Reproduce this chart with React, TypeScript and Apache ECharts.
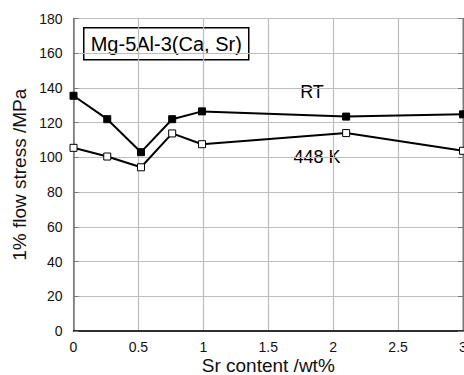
import React, { useEffect, useRef } from "react";
import * as echarts from "echarts";

const srContent = [0, 0.26, 0.52, 0.76, 0.99, 2.1, 3];
const rtStress = [135.5, 122, 103, 122, 126.5, 123.5, 124.8];
const hotStress = [105.5, 100.5, 94.3, 113.8, 107.6, 114, 103.8];
const seriesNames = ["RT", "448 K"];
const boxTitle = "Mg-5Al-3(Ca, Sr)";
const xTitle = "Sr content /wt%";
const yTitle = "1% flow stress /MPa";

const FONT = "'Liberation Sans', Arial, sans-serif";

export default function App() {
  const ref = useRef<HTMLDivElement>(null);
  useEffect(() => {
    if (!ref.current) return;
    const chart = echarts.init(ref.current, null, { renderer: "svg" });
    const mk = (xs: number[], ys: number[]) => xs.map((x, i) => [x, ys[i]]);
    chart.setOption({
      animation: false,
      backgroundColor: "#ffffff",
      textStyle: { fontFamily: FONT },
      grid: {
        left: 73.5,
        right: 1,
        top: 18.5,
        bottom: 44,
        show: true,
        borderColor: "#777777",
        borderWidth: 1,
        outerBoundsMode: "none",
        containLabel: false,
      },
      xAxis: {
        type: "value",
        min: 0,
        max: 3,
        interval: 0.5,
        name: xTitle,
        nameLocation: "middle",
        nameGap: 25.5,
        nameMoveOverlap: false,
        nameTextStyle: {
          fontSize: 19,
          color: "#111",
          fontFamily: FONT,
          verticalAlign: "top",
          lineHeight: 18,
        },
        axisLine: { show: true, lineStyle: { color: "#000", width: 1.5 } },
        axisTick: { show: false },
        axisLabel: { fontSize: 14, color: "#111", margin: 9, fontFamily: FONT },
        splitLine: { show: true, lineStyle: { color: "#bdbdbd", width: 1.2 } },
      },
      yAxis: [
        {
          type: "value",
          min: 0,
          max: 180,
          interval: 20,
          name: yTitle,
          nameLocation: "middle",
          nameGap: 45,
          nameRotate: 90,
          nameMoveOverlap: false,
          nameTextStyle: { fontSize: 19, color: "#111", fontFamily: FONT },
          axisLine: { show: true, lineStyle: { color: "#6f6f6f", width: 1.5 } },
          axisTick: { show: true, inside: true, length: 5, lineStyle: { color: "#777" } },
          axisLabel: { fontSize: 14, color: "#111", margin: 11, fontFamily: FONT },
          splitLine: { show: true, lineStyle: { color: "#bdbdbd", width: 1.2 } },
        },
        {
          type: "value",
          position: "right",
          min: 0,
          max: 180,
          interval: 20,
          axisLine: { show: true, lineStyle: { color: "#777", width: 1 } },
          axisTick: { show: true, inside: true, length: 5, lineStyle: { color: "#777" } },
          axisLabel: { show: false },
          splitLine: { show: false },
        },
      ],
      series: [
        {
          name: seriesNames[0],
          type: "line",
          data: mk(srContent, rtStress),
          symbol: "rect",
          symbolSize: 7,
          lineStyle: { color: "#000", width: 2 },
          itemStyle: { color: "#000", borderColor: "#000", borderWidth: 1 },
          z: 3,
        },
        {
          name: seriesNames[1],
          type: "line",
          data: mk(srContent, hotStress),
          symbol: "rect",
          symbolSize: 7,
          lineStyle: { color: "#000", width: 2 },
          itemStyle: { color: "#fff", borderColor: "#000", borderWidth: 1 },
          z: 3,
        },
      ],
      graphic: [
        {
          type: "group",
          left: 83,
          top: 27,
          children: [
            {
              type: "rect",
              shape: { x: 0, y: 0, width: 165, height: 32 },
              style: { fill: "#fff", stroke: "#000", lineWidth: 1.5 },
            },
            {
              type: "text",
              x: 82.5,
              y: 16.5,
              style: {
                text: boxTitle,
                font: `20px ${FONT}`,
                fill: "#000",
                align: "center",
                verticalAlign: "middle",
              },
            },
          ],
        },
        {
          type: "text",
          x: 312,
          y: 92,
          style: {
            text: seriesNames[0],
            font: `18px ${FONT}`,
            fill: "#000",
            align: "center",
            verticalAlign: "middle",
          },
        },
        {
          type: "text",
          x: 317,
          y: 157,
          style: {
            text: seriesNames[1],
            font: `18px ${FONT}`,
            fill: "#000",
            align: "center",
            verticalAlign: "middle",
          },
        },
      ],
    });
    return () => chart.dispose();
  }, []);
  return (
    <div
      ref={ref}
      style={{ position: "absolute", left: 0, top: 0, width: 464, height: 375 }}
    />
  );
}
